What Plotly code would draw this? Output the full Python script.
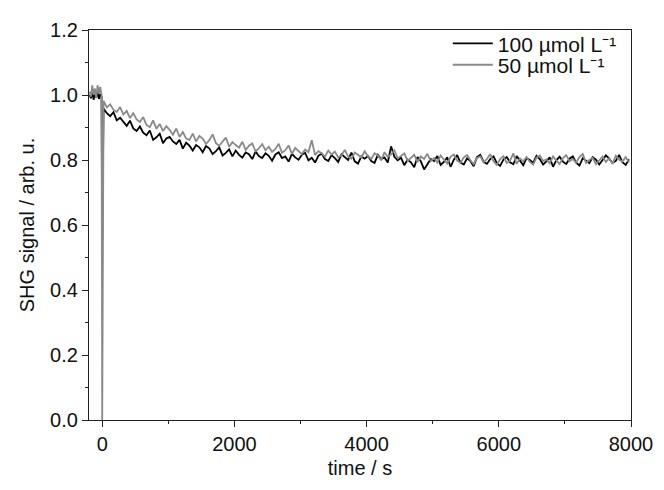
import plotly.graph_objects as go

# ---- data ----
t_pre = [-190, -170, -150, -130, -110, -90, -70, -50, -30, -10]
t_dip = [0]
post_start = 20
post_step = 50

black_pre = [1.000, 0.990, 1.012, 0.985, 1.005, 0.992, 1.010, 0.988, 1.003, 0.995]
black_dip = [0.55]
black_post = [
    0.958, 0.944, 0.935, 0.947, 0.922, 0.930, 0.918, 0.905, 0.921, 0.897,
    0.889, 0.903, 0.884, 0.876, 0.891, 0.862, 0.870, 0.881, 0.852, 0.866,
    0.871, 0.857, 0.849, 0.862, 0.835, 0.853, 0.844, 0.829, 0.846, 0.839,
    0.824, 0.843, 0.836, 0.818, 0.827, 0.839, 0.814, 0.822, 0.833, 0.811,
    0.829, 0.816, 0.807, 0.823, 0.818, 0.803, 0.826, 0.812, 0.806, 0.821,
    0.813, 0.798, 0.817, 0.824, 0.806, 0.811, 0.795, 0.819, 0.808, 0.801,
    0.816, 0.822, 0.799, 0.807, 0.792, 0.813, 0.820, 0.803, 0.797, 0.815,
    0.806, 0.794, 0.818, 0.809, 0.800, 0.823, 0.796, 0.789, 0.811, 0.804,
    0.812, 0.797, 0.791, 0.816, 0.803, 0.808, 0.792, 0.842, 0.810, 0.799,
    0.807, 0.784, 0.801, 0.793, 0.778, 0.809, 0.796, 0.771, 0.788, 0.803,
    0.797, 0.812, 0.785, 0.794, 0.808, 0.779, 0.801, 0.815, 0.792, 0.786,
    0.805, 0.797, 0.781, 0.809, 0.816, 0.794, 0.788, 0.803, 0.811, 0.790,
    0.782, 0.801, 0.809, 0.793, 0.787, 0.812, 0.798, 0.784, 0.806, 0.800,
    0.791, 0.813, 0.803, 0.786, 0.796, 0.808, 0.779, 0.799, 0.810, 0.795,
    0.788, 0.804, 0.811, 0.792, 0.783, 0.806, 0.798, 0.790, 0.809, 0.801,
    0.786, 0.799, 0.814, 0.804, 0.791, 0.797, 0.816, 0.793, 0.785, 0.802,
]

gray_pre = [1.010, 0.995, 1.030, 1.000, 1.020, 0.990, 1.030, 1.005, 1.025, 1.000]
gray_dip = [0.0]
gray_post = [
    0.982, 0.962, 0.971, 0.955, 0.948, 0.963, 0.940, 0.951, 0.929, 0.944,
    0.925, 0.917, 0.932, 0.908, 0.901, 0.922, 0.896, 0.911, 0.889, 0.904,
    0.893, 0.878, 0.897, 0.871, 0.886, 0.866, 0.862, 0.881, 0.857, 0.874,
    0.866, 0.849, 0.861, 0.879, 0.852, 0.844, 0.858, 0.869, 0.841, 0.855,
    0.846, 0.838, 0.856, 0.831, 0.844, 0.851, 0.827, 0.836, 0.849, 0.830,
    0.841, 0.825, 0.834, 0.850, 0.822, 0.830, 0.845, 0.819, 0.837, 0.826,
    0.818, 0.832, 0.824, 0.861, 0.815, 0.827, 0.821, 0.810, 0.829, 0.817,
    0.826, 0.808, 0.815, 0.831, 0.811, 0.804, 0.823, 0.816, 0.807, 0.827,
    0.812, 0.803, 0.821, 0.814, 0.799, 0.824, 0.809, 0.817, 0.830, 0.805,
    0.813, 0.820, 0.797, 0.808, 0.816, 0.794, 0.811, 0.803, 0.819, 0.796,
    0.806, 0.792, 0.814, 0.801, 0.789, 0.810, 0.817, 0.798, 0.791, 0.808,
    0.815, 0.799, 0.787, 0.806, 0.811, 0.793, 0.803, 0.818, 0.796, 0.785,
    0.803, 0.812, 0.791, 0.798, 0.820, 0.788, 0.805, 0.796, 0.809, 0.794,
    0.786, 0.807, 0.814, 0.797, 0.802, 0.790, 0.811, 0.799, 0.788, 0.806,
    0.815, 0.796, 0.803, 0.792, 0.809, 0.818, 0.791, 0.800, 0.807, 0.787,
    0.798, 0.811, 0.794, 0.805, 0.788, 0.813, 0.801, 0.795, 0.809, 0.792,
]

series_names = ["100 µmol L⁻¹", "50 µmol L⁻¹"]
x_ticks = [0, 2000, 4000, 6000, 8000]
y_ticks = [0.0, 0.2, 0.4, 0.6, 0.8, 1.0, 1.2]

t_post = [post_start + post_step * i for i in range(len(black_post))]
t_all = t_pre + t_dip + t_post

FONT = "Liberation Sans, Arial, sans-serif"
FS = 20

fig = go.Figure()
fig.add_trace(go.Scatter(
    x=t_all, y=black_pre + black_dip + black_post, mode="lines",
    name=series_names[0], line=dict(color="#000000", width=1.8),
    legend="legend"))
fig.add_trace(go.Scatter(
    x=t_all, y=gray_pre + gray_dip + gray_post, mode="lines",
    name=series_names[1], line=dict(color="#8a8a8a", width=1.8),
    legend="legend2"))

axis_common = dict(
    showline=True, linecolor="#222222", linewidth=1.3, mirror=True,
    ticks="outside", ticklen=6, tickwidth=1.3, tickcolor="#222222",
    showgrid=False, zeroline=False,
    tickfont=dict(family=FONT, size=FS, color="#111111"),
)

fig.update_xaxes(
    range=[-200, 8000], tickvals=x_ticks, tickformat="d",
    minor=dict(dtick=1000, ticks="outside", ticklen=3, tickwidth=1.2, tickcolor="#222222"),
    title=dict(text="time / s", font=dict(family=FONT, size=FS, color="#111111"), standoff=6),
    **axis_common)
fig.update_yaxes(
    range=[0, 1.2], tickvals=y_ticks, tickformat=".1f",
    minor=dict(dtick=0.1, ticks="outside", ticklen=3, tickwidth=1.2, tickcolor="#222222"),
    title=dict(text="SHG signal / arb. u.", font=dict(family=FONT, size=FS, color="#111111"), standoff=10),
    **axis_common)

legend_common = dict(xanchor="left", yanchor="middle", bgcolor="rgba(0,0,0,0)",
                     font=dict(family=FONT, size=21, color="#111111"), itemwidth=40)

fig.update_layout(
    width=656, height=482,
    margin=dict(l=81, r=33, t=11, b=70),
    paper_bgcolor="white", plot_bgcolor="white",
    font=dict(family=FONT, size=FS, color="#111111"),
    legend=dict(x=0.662, y=0.965, **legend_common),
    legend2=dict(x=0.662, y=0.910, **legend_common),
    showlegend=True,
)

fig.write_html("out.html")
